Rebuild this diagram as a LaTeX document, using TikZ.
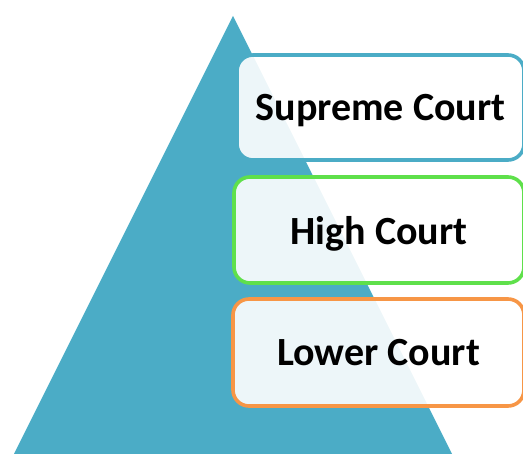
\documentclass[tikz,border=0pt]{standalone}
\usepackage{fontspec}
\setmainfont{Carlito}
\definecolor{teal1}{HTML}{4BACC6}
\definecolor{green1}{RGB}{95,224,75}
\definecolor{orange1}{HTML}{F79646}
\begin{document}
\begin{tikzpicture}[x=1pt,y=-1pt,
  court/.style={draw, line width=3.6pt, rounded corners=16pt, fill=white, fill opacity=0.9, text opacity=1,
    text depth=0pt, font=\fontsize{40}{48}\selectfont\bfseries}]
\useasboundingbox (0,0) rectangle (523,454);
\fill[teal1] (233,16) -- (452,454) -- (14,454) -- cycle;
\node[court, draw=teal1, minimum width=287pt, minimum height=105pt] (supreme) at (380.5,107.5) {Supreme Court};
\node[court, draw=green1, minimum width=290pt, minimum height=106pt] (high) at (379,230) {High Court};
\node[court, draw=orange1, minimum width=291pt, minimum height=107pt] (lower) at (378.5,352.5) {Lower Court};
\end{tikzpicture}
\end{document}
